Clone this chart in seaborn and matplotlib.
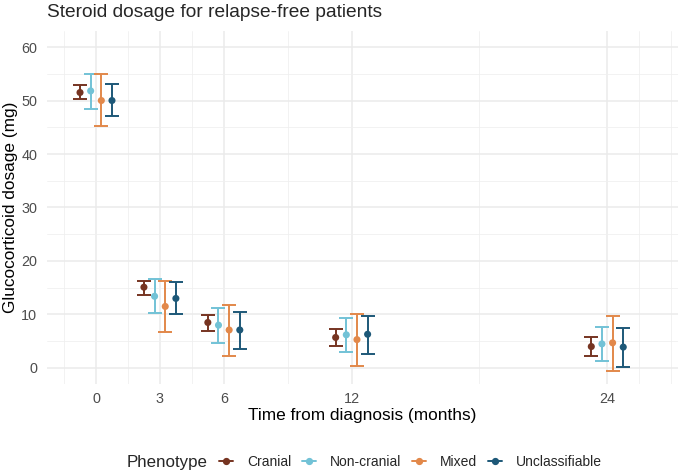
import numpy as np
import pandas as pd
import matplotlib
matplotlib.use('Agg')
import matplotlib.pyplot as plt
from matplotlib.lines import Line2D
import seaborn as sns

# values (glucocorticoid dosage, mg)
months = [0, 3, 6, 12, 24]
phenotypes = ['Cranial', 'Non-cranial', 'Mixed', 'Unclassifiable']
colors = ['#763421', '#72C2D6', '#E2884A', '#1D5878']

mean_cranial = [51.5, 15.1, 8.5, 5.7, 4.0]
low_cranial = [50.3, 13.7, 7.0, 4.1, 2.3]
high_cranial = [52.9, 16.3, 9.9, 7.2, 5.7]

mean_noncranial = [51.8, 13.4, 8.0, 6.2, 4.5]
low_noncranial = [48.5, 10.2, 4.7, 2.9, 1.3]
high_noncranial = [55.0, 16.6, 11.3, 9.3, 7.7]

mean_mixed = [50.0, 11.5, 7.1, 5.3, 4.7]
low_mixed = [45.2, 6.7, 2.2, 0.4, -0.5]
high_mixed = [54.9, 16.3, 11.8, 10.1, 9.8]

mean_unclass = [50.0, 13.0, 7.1, 6.3, 3.9]
low_unclass = [47.1, 10.0, 3.6, 2.7, 0.2]
high_unclass = [53.1, 16.1, 10.5, 9.7, 7.4]

means = [mean_cranial, mean_noncranial, mean_mixed, mean_unclass]
lows = [low_cranial, low_noncranial, low_mixed, low_unclass]
highs = [high_cranial, high_noncranial, high_mixed, high_unclass]

# long table, dodged like ggplot position_dodge(width = 2)
rows = []
for i, ph in enumerate(phenotypes):
    for j, m in enumerate(months):
        rows.append({'Phenotype': ph, 'month': m, 'x': m + (i - 1.5) * 0.5,
                     'mean': means[i][j], 'low': lows[i][j], 'high': highs[i][j]})
df = pd.DataFrame(rows)

sns.set_theme(style='white')
plt.rcParams['font.family'] = ['Liberation Sans', 'DejaVu Sans']

fig = plt.figure(figsize=(6.8, 4.74), dpi=100)
ax = fig.add_axes([47 / 680, 1 - 384 / 474, 631 / 680, 353 / 474])

pal = dict(zip(phenotypes, colors))
for ph in phenotypes:
    d = df[df['Phenotype'] == ph]
    ax.errorbar(d['x'], d['mean'], yerr=[d['mean'] - d['low'], d['high'] - d['mean']],
                fmt='none', ecolor=pal[ph], elinewidth=1.4, capsize=4.8, capthick=1.4, zorder=2)
sns.scatterplot(data=df, x='x', y='mean', hue='Phenotype', palette=pal, s=26,
                edgecolor='none', legend=False, ax=ax, zorder=3)

ax.set_xlim(-2.3, 27.32)
ax.set_ylim(-3, 63)
ax.set_xticks(months)
ax.set_xticklabels([str(m) for m in months])
ax.set_xticks([-1.5, 1.5, 4.5, 9, 18, 25.5, 27], minor=True)
ax.set_yticks([0, 10, 20, 30, 40, 50, 60])
ax.set_yticks([5, 15, 25, 35, 45, 55], minor=True)
ax.grid(which='major', color='#EBEBEB', lw=1.1)
ax.grid(which='minor', color='#EFEFEF', lw=0.55)
ax.set_axisbelow(True)
for s in ax.spines.values():
    s.set_visible(False)
ax.tick_params(which='both', length=0, labelsize=10.4, labelcolor='#4D4D4D')
ax.tick_params(axis='x', pad=6)
ax.tick_params(axis='y', pad=7)
ax.set_xlabel('Time from diagnosis (months)', fontsize=12.4, color='black', labelpad=1)
ax.set_ylabel('Glucocorticoid dosage (mg)', fontsize=12.4, color='black', labelpad=2.5)

fig.text(47 / 680, 1 - 17 / 474, 'Steroid dosage for relapse-free patients',
         fontsize=13.8, va='baseline', ha='left')

handles = [Line2D([0], [0], color=c, marker='o', markersize=4.2, lw=1.4) for c in colors]
fig.text(127 / 680, 1 - 462 / 474, 'Phenotype', fontsize=12.2, va='center', ha='left')
fig.legend(handles, phenotypes, loc='center left', bbox_to_anchor=(219 / 680, 1 - 462 / 474),
           ncol=4, frameon=False, fontsize=10, handlelength=1.0, handletextpad=1.0,
           columnspacing=0.8, borderpad=0, borderaxespad=0)

fig.savefig('out.png', dpi=100)
